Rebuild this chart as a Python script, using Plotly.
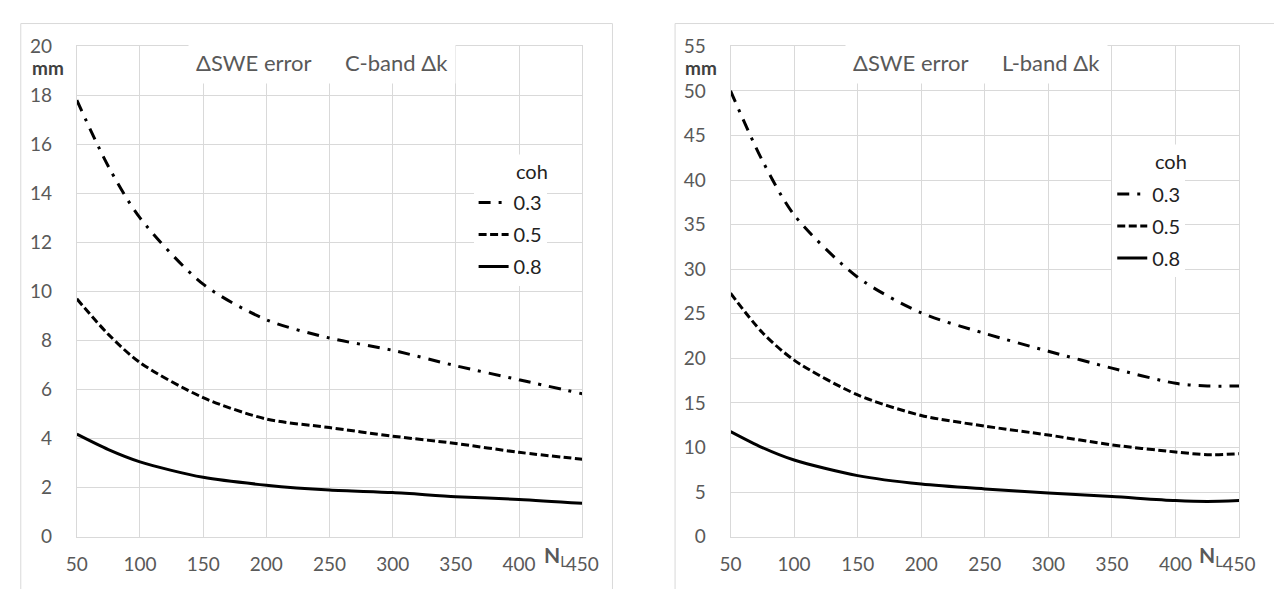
import plotly.graph_objects as go

# ---------------- data ----------------
n_looks_c = [50, 75, 100, 150, 200, 250, 300, 350, 400, 450]
c_coh03 = [17.8, 15.1, 13.0, 10.3, 8.85, 8.1, 7.6, 6.97, 6.4, 5.83]
c_coh05 = [9.7, 8.25, 7.1, 5.67, 4.8, 4.45, 4.1, 3.8, 3.44, 3.16]
c_coh08 = [4.18, 3.55, 3.05, 2.42, 2.1, 1.9, 1.8, 1.63, 1.52, 1.36]

n_looks_l = [50, 75, 100, 150, 200, 250, 300, 350, 400, 425, 450]
l_coh03 = [50.0, 42.2, 36.1, 29.1, 25.1, 22.8, 20.8, 18.9, 17.2, 16.9, 16.9]
l_coh05 = [27.3, 22.9, 19.8, 15.9, 13.6, 12.4, 11.4, 10.3, 9.5, 9.2, 9.3]
l_coh08 = [11.8, 10.0, 8.6, 6.85, 5.9, 5.35, 4.9, 4.5, 4.05, 3.95, 4.05]

coh_labels = ["0.3", "0.5", "0.8"]
SP = "\u00a0" * 6
titles = ["ΔSWE error" + SP + "C-band Δk", "ΔSWE error" + SP + "L-band Δk"]

# ---------------- styling ----------------
W, H = 1274, 589
FONT = "Lato"
GRAY = "#595959"
GRID = "#d9d9d9"
dashes = ["12px,8px,3px,8px", "8px,3.5px", "solid"]

def px(x):
    return x / W

def py(y):
    return 1 - y / H

fig = go.Figure()

series = [
    (n_looks_c, [c_coh03, c_coh05, c_coh08], "x", "y", "legend"),
    (n_looks_l, [l_coh03, l_coh05, l_coh08], "x2", "y2", "legend2"),
]
for xs, ys_list, xa, ya, lg in series:
    for i, ys in enumerate(ys_list):
        fig.add_trace(go.Scatter(
            x=xs, y=ys, mode="lines", name=coh_labels[i],
            line=dict(color="black", width=3, dash=dashes[i], shape="spline", smoothing=0.8),
            xaxis=xa, yaxis=ya, legend=lg, legendgroup=lg + coh_labels[i],
            hoverinfo="skip",
        ))

axis_common = dict(
    showgrid=True, gridcolor=GRID, gridwidth=1,
    showline=True, linecolor=GRID, linewidth=1, mirror=True,
    zeroline=False, ticks="outside", tickcolor="rgba(0,0,0,0)",
    tickfont=dict(family=FONT, size=19, color=GRAY), fixedrange=True,
)

ydom = [py(546), py(35.7)]
fig.update_layout(
    width=W, height=H, margin=dict(l=0, r=0, t=0, b=0),
    paper_bgcolor="white", plot_bgcolor="white",
    xaxis=dict(domain=[px(67.3), px(584)], range=[50, 450], tick0=50, dtick=50,
               ticklen=11, anchor="y", **axis_common),
    yaxis=dict(domain=ydom, range=[0, 20], tick0=0, dtick=2, ticklen=20, anchor="x",
               **axis_common),
    xaxis2=dict(domain=[px(735.7), px(1255.7)], range=[50, 450], tick0=50, dtick=50,
                ticklen=11, anchor="y2", **axis_common),
    yaxis2=dict(domain=ydom, range=[0, 55], tick0=0, dtick=5, ticklen=20, anchor="x2",
                **axis_common),
    legend=dict(x=px(473), y=py(178), xanchor="left", yanchor="top", bgcolor="white",
                font=dict(family=FONT, size=20, color="#222222"), tracegroupgap=3,
                itemwidth=30, borderwidth=0),
    legend2=dict(x=px(1126), y=py(169), xanchor="left", yanchor="top", bgcolor="white",
                 font=dict(family=FONT, size=20, color="#222222"), tracegroupgap=3,
                 itemwidth=30, borderwidth=0),
    showlegend=True,
)

# panel borders
for x0, x1 in [(10, 615), (679, 1300)]:
    fig.add_shape(type="rect", xref="paper", yref="paper",
                  x0=px(x0), x1=px(x1), y0=py(12), y1=py(620),
                  line=dict(color=GRID, width=1), fillcolor="rgba(0,0,0,0)", layer="below")

annotations = []
# titles
for cx, t in [(318, titles[0]), (987, titles[1])]:
    annotations.append(dict(x=px(cx), y=py(53), xref="paper", yref="paper", text=t,
                            showarrow=False, xanchor="center", yanchor="middle",
                            font=dict(family=FONT, size=22, color=GRAY),
                            bgcolor="white", borderpad=7))
# mm labels
for rx in [56, 724]:
    annotations.append(dict(x=px(rx), y=py(58), xref="paper", yref="paper", text="<b>mm</b>",
                            showarrow=False, xanchor="right", yanchor="middle",
                            font=dict(family=FONT, size=19, color="#404040")))
# coh headers
for cx, cy in [(533, 165), (1186, 155)]:
    annotations.append(dict(x=px(cx), y=py(cy), xref="paper", yref="paper", text="coh",
                            showarrow=False, xanchor="center", yanchor="middle",
                            font=dict(family=FONT, size=20, color="#222222"),
                            bgcolor="white", borderpad=4))
# N_L labels
for cx in [557, 1227]:
    annotations.append(dict(x=px(cx), y=py(566), xref="paper", yref="paper",
                            text="<b>N</b><sub>L</sub>",
                            showarrow=False, xanchor="center", yanchor="middle",
                            font=dict(family=FONT, size=21, color=GRAY)))
fig.update_layout(annotations=annotations)

fig.write_html("out.html")
